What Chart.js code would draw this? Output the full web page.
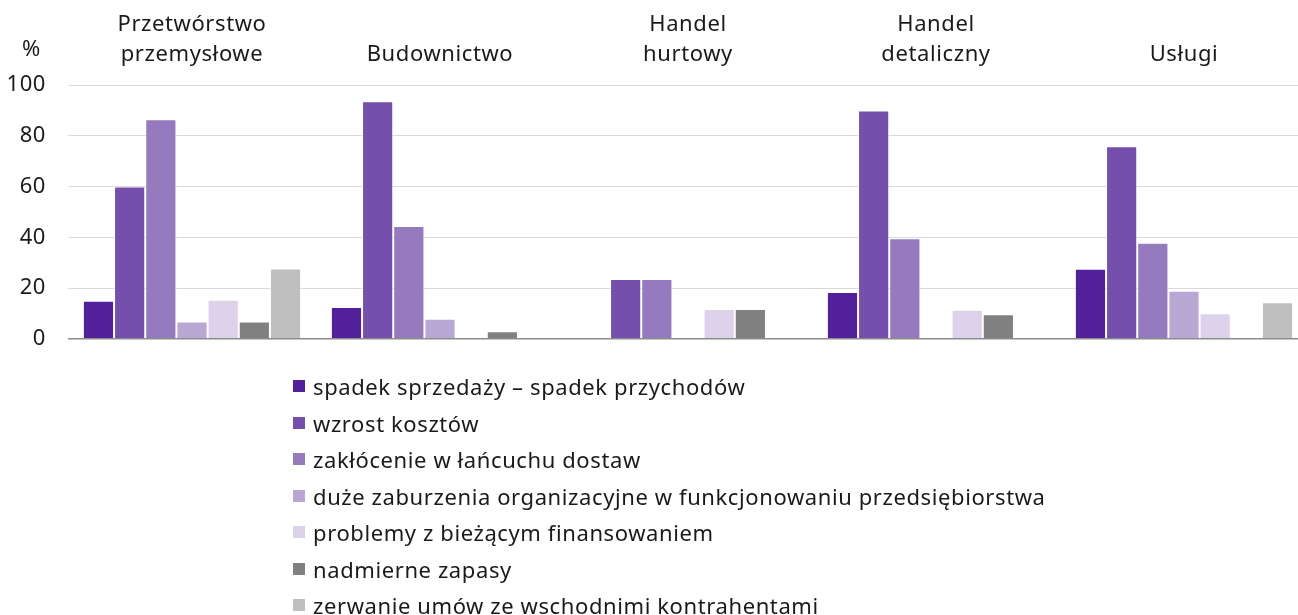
<!DOCTYPE html>
<html lang="pl">
<head>
<meta charset="utf-8">
<script src="https://cdn.jsdelivr.net/npm/chart.js@4/dist/chart.umd.min.js"></script>
<style>
  html, body { margin: 0; padding: 0; background: #fff; overflow: hidden; }
  body { width: 1298px; height: 615px; position: relative; font-family: "Noto Sans", sans-serif; color: #1a1a1a; }
  #wrap { position: absolute; left: 0; top: 0; width: 1310px; height: 374px; }
  #unit { position: absolute; left: 22px; top: 32px; font-size: 22px; line-height: 30px; letter-spacing: 0.6px; }
  #legend { position: absolute; left: 293px; top: 368px; margin: 0; padding: 0; list-style: none; }
  #legend li { height: 36.5px; display: flex; align-items: center; font-size: 22px; letter-spacing: 0.6px; white-space: nowrap; }
  #legend span.box { width: 12px; height: 12px; margin-right: 8px; display: inline-block; flex: none; }
</style>
</head>
<body>
<div id="wrap"><canvas id="chart" width="1310" height="374"></canvas></div>
<div id="unit">%</div>
<ul id="legend"></ul>
<script>
// kategorie (sekcje)
const sectors = [
    ['Przetwórstwo', 'przemysłowe'],
    'Budownictwo',
    ['Handel', 'hurtowy'],
    ['Handel', 'detaliczny'],
    'Usługi'
];

// nazwy serii
const seriesNames = [
    'spadek sprzedaży – spadek przychodów',
    'wzrost kosztów',
    'zakłócenie w łańcuchu dostaw',
    'duże zaburzenia organizacyjne w funkcjonowaniu przedsiębiorstwa',
    'problemy z bieżącym finansowaniem',
    'nadmierne zapasy',
    'zerwanie umów ze wschodnimi kontrahentami'
];

// wartości w %
const spadekSprzedazy = [15.0, 12.5, 0, 18.4, 27.6];
const wzrostKosztow = [60.0, 93.6, 23.6, 90.0, 75.9];
const zaklocenieDostaw = [86.5, 44.4, 23.6, 39.6, 37.8];
const zaburzeniaOrg = [6.8, 7.9, 0, 0, 18.9];
const problemyFinans = [15.4, 0, 11.7, 11.4, 10.1];
const nadmierneZapasy = [6.8, 3.0, 11.7, 9.7, 0];
const zerwanieUmow = [27.7, 0, 0, 0, 14.4];

const yTicks = [0, 20, 40, 60, 80, 100];

const seriesValues = [spadekSprzedazy, wzrostKosztow, zaklocenieDostaw, zaburzeniaOrg, problemyFinans, nadmierneZapasy, zerwanieUmow];
const colors = ['#52209a', '#7450ac', '#957bbe', '#b9a6d4', '#dcd2e9', '#808080', '#bfbfbf'];

// odstępy między literami, żeby szerokość napisów zgadzała się z oryginałem
const letterSpacingPlugin = {
    id: 'letterSpacing',
    beforeLayout: chart => { chart.ctx.letterSpacing = '0.6px'; },
    beforeDraw: chart => { chart.ctx.letterSpacing = '0.6px'; }
};

const ctx = document.getElementById('chart').getContext('2d');
const chart = new Chart(ctx, {
    type: 'bar',
    data: {
        labels: sectors,
        datasets: seriesNames.map((name, i) => ({
            label: name,
            data: seriesValues[i],
            backgroundColor: colors[i],
            borderColor: 'rgba(255,255,255,0.55)',
            borderWidth: 1,
            categoryPercentage: 0.88,
            barPercentage: 1
        }))
    },
    plugins: [letterSpacingPlugin],
    options: {
        responsive: false,
        animation: false,
        layout: { padding: { left: 0, right: 2, top: 0, bottom: 0 } },
        plugins: {
            legend: { display: false },
            tooltip: { enabled: false }
        },
        scales: {
            x: {
                position: 'top',
                grid: { display: false, drawTicks: false },
                border: { display: false },
                ticks: {
                    color: '#1a1a1a',
                    padding: 15,
                    font: { family: 'Noto Sans', size: 22, lineHeight: 1.364 }
                },
                afterFit: scale => { scale.height = 85; }
            },
            y: {
                min: 0,
                max: 100,
                afterBuildTicks: scale => { scale.ticks = yTicks.map(v => ({ value: v })); },
                grid: {
                    drawTicks: false,
                    color: c => c.tick && c.tick.value === 0 ? '#8c8c8c' : '#d9d9d9',
                    lineWidth: c => c.tick && c.tick.value === 0 ? 1.5 : 1
                },
                border: { display: false },
                ticks: {
                    color: '#1a1a1a',
                    padding: 22,
                    font: { family: 'Noto Sans', size: 22 }
                },
                afterFit: scale => { scale.width = 68; }
            }
        }
    }
});

// legenda w jednej kolumnie
const legend = document.getElementById('legend');
chart.data.datasets.forEach(ds => {
    const li = document.createElement('li');
    li.innerHTML = '<span class="box" style="background:' + ds.backgroundColor + '"></span>' + ds.label;
    legend.appendChild(li);
});
</script>
</body>
</html>
